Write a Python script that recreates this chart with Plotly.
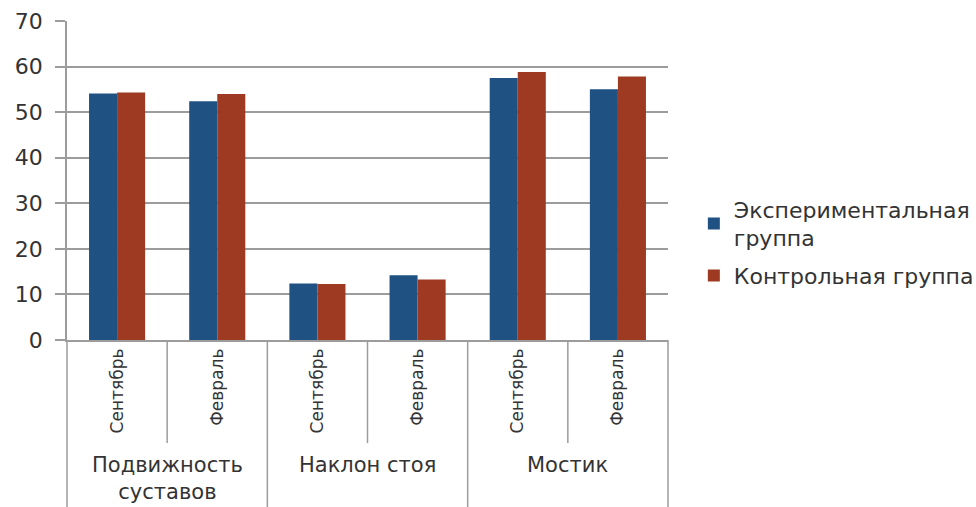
import plotly.graph_objects as go

groups = ["Подвижность<br>суставов", "Наклон стоя", "Мостик"]
months = ["Сентябрь", "Февраль", "Сентябрь", "Февраль", "Сентябрь", "Февраль"]
series_names = ["Экспериментальная<br>группа", "Контрольная группа"]
exp_values = [54.1, 52.4, 12.4, 14.2, 57.5, 55.0]
ctrl_values = [54.3, 54.0, 12.3, 13.3, 58.8, 57.8]
y_ticks = [0, 10, 20, 30, 40, 50, 60, 70]

colors = ["#1F5283", "#9E3A22"]
FONT = "DejaVu Sans"
TXT = "#333333"
LINE = "#9c9c9c"

x_idx = list(range(len(months)))
fig = go.Figure()
for i, (name, vals, col) in enumerate(zip(series_names, [exp_values, ctrl_values], colors)):
    fig.add_trace(go.Bar(x=x_idx, y=vals, name=name, legendgroup=f"g{i}",
                         marker=dict(color=col, line=dict(width=0))))

n = len(months)
shapes = []
# inner dividers (between months within a group)
for g in range(len(groups)):
    b = 2 * g + 1
    shapes.append(dict(type="line", xref="x domain", yref="paper",
                       x0=b / n, x1=b / n, y0=0, y1=-0.323,
                       line=dict(color=LINE, width=1.5)))
# outer dividers (between groups)
for g in range(len(groups) + 1):
    b = 2 * g
    shapes.append(dict(type="line", xref="x domain", yref="paper",
                       x0=b / n, x1=b / n, y0=0, y1=-0.53,
                       line=dict(color=LINE, width=1.5)))

annotations = []
for g, label in enumerate(groups):
    annotations.append(dict(text=label, xref="x domain", yref="paper",
                            x=(2 * g + 1) / n, y=-0.352, xanchor="center", yanchor="top",
                            showarrow=False, borderpad=0,
                            font=dict(family=FONT, size=21, color=TXT)))

fig.update_layout(
    width=976, height=507,
    margin=dict(l=67, r=308, t=21, b=167, autoexpand=False),
    paper_bgcolor="white", plot_bgcolor="white",
    barmode="group", bargap=0.44, bargroupgap=0,
    font=dict(family=FONT, size=17, color=TXT),
    shapes=shapes, annotations=annotations,
    legend=dict(x=1.043, y=0.475, xanchor="left", yanchor="top",
                traceorder="grouped", tracegroupgap=6,
                font=dict(family=FONT, size=22, color=TXT),
                bgcolor="rgba(0,0,0,0)"),
    xaxis=dict(tickmode="array", tickvals=x_idx, ticktext=months, tickangle=-90,
               range=[-0.5, n - 0.5], showgrid=False, showline=True, linecolor=LINE,
               linewidth=1.5, ticks="", zeroline=False,
               tickfont=dict(family=FONT, size=17, color=TXT)),
    yaxis=dict(range=[0, 70], tickvals=y_ticks, showgrid=True, gridcolor=LINE, gridwidth=1.5,
               showline=True, linecolor=LINE, linewidth=1.5, ticks="outside", ticklen=10,
               tickcolor=LINE, tickwidth=1.5, zeroline=False, ticklabelstandoff=8,
               tickfont=dict(family=FONT, size=22, color=TXT)),
)
fig.write_html("out.html")
